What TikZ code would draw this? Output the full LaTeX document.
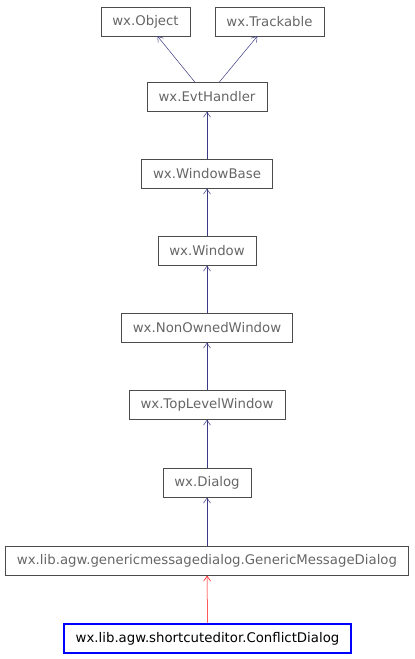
\documentclass[tikz,border=0pt]{standalone}
\usepackage{fontspec}
\setmainfont{DejaVu Sans}
\usetikzlibrary{arrows.meta}
\definecolor{edgeblue}{HTML}{191970}
\definecolor{txtgray}{HTML}{666666}

\begin{document}
\begin{tikzpicture}[
    x=1pt, y=-1pt,
    cls/.style={draw=black!70, inner xsep=11.5pt, minimum height=29pt,
                font=\fontsize{13.3}{15}\selectfont, text=txtgray},
    cur/.style={cls, draw=blue, line width=2.6pt, text=black},
    inh/.style={-{Straight Barb[length=5pt, width=7pt]}, edgeblue!85, line width=0.5pt},
    >=Stealth
  ]
  \useasboundingbox (0,0) rectangle (415,659);

  \node[cls] (obj) at (145.5, 21.5) {wx.Object};
  \node[cls] (trk) at (269.5, 21.5) {wx.Trackable};

  % main chain of base classes
  \foreach \name/\y/\txt in {evt/97/wx.EvtHandler, wbase/174/wx.WindowBase,
      win/251/wx.Window, now/328/wx.NonOwnedWindow,
      tlw/405/wx.TopLevelWindow, dlg/483/wx.Dialog,
      gmd/561/wx.lib.agw.genericmessagedialog.GenericMessageDialog} {
    \node[cls] (\name) at (207, \y) {\txt};
  }
  \node[cur] (cd) at (207.5, 638.5) {wx.lib.agw.shortcuteditor.ConflictDialog};

  % inheritance arrows
  \draw[inh] (evt) -- (obj);
  \draw[inh] (evt) -- (trk);
  \draw[inh] (wbase) -- (evt);
  \draw[inh] (win) -- (wbase);
  \draw[inh] (now) -- (win);
  \draw[inh] (tlw) -- (now);
  \draw[inh] (dlg) -- (tlw);
  \draw[inh] (gmd) -- (dlg);
  \draw[inh, red] (cd) -- (gmd);
\end{tikzpicture}
\end{document}
